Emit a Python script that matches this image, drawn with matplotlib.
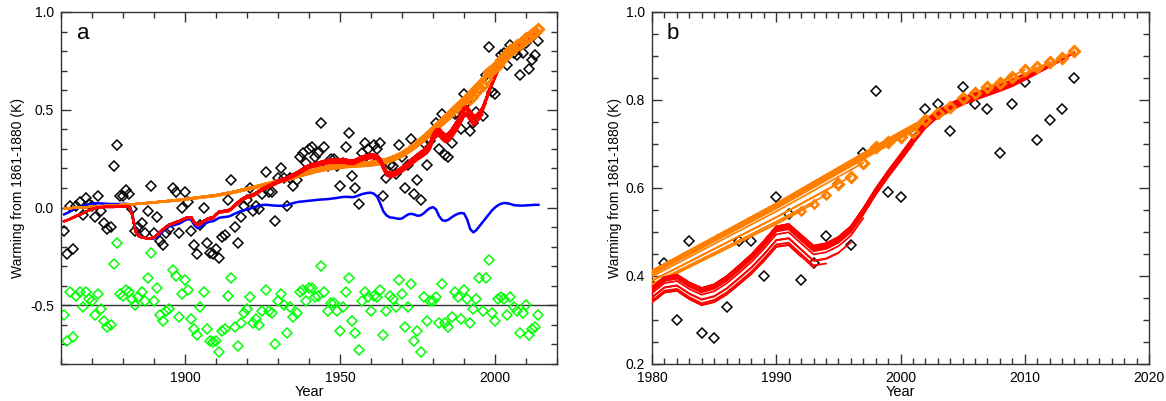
import numpy as np
import matplotlib
matplotlib.use("Agg")
import matplotlib.pyplot as plt
from matplotlib.ticker import MultipleLocator

plt.rcParams['font.family'] = ['Liberation Sans', 'DejaVu Sans']
plt.rcParams['axes.unicode_minus'] = False

# annual values, 1861-2014, warming relative to 1861-1880 (K)
years = np.arange(1861, 2015)

observed = [
    -0.12, -0.24, 0.01, -0.21, 0.01, 0.03, -0.04, 0.05, 0.02, 0.01,
    -0.05, 0.06, -0.02, -0.08, -0.11, -0.10, 0.21, 0.32, 0.06, 0.06,
    0.09, 0.07, -0.01, -0.12, -0.10, -0.08, -0.13, -0.02, 0.11, -0.13,
    -0.05, -0.17, -0.19, -0.13, -0.11, 0.10, 0.08, -0.13, 0.00, 0.08,
    0.03, -0.12, -0.19, -0.24, -0.09, 0.00, -0.18, -0.23, -0.24, -0.21,
    -0.26, -0.15, -0.14, 0.04, 0.14, -0.10, -0.18, -0.05, 0.01, 0.04,
    0.10, -0.02, 0.01, -0.01, 0.07, 0.18, 0.08, 0.08, -0.07, 0.15,
    0.20, 0.15, 0.01, 0.15, 0.11, 0.14, 0.26, 0.28, 0.23, 0.30,
    0.31, 0.26, 0.28, 0.43, 0.31, 0.21, 0.25, 0.25, 0.21, 0.11,
    0.23, 0.31, 0.38, 0.16, 0.10, 0.02, 0.28, 0.33, 0.30, 0.24,
    0.32, 0.30, 0.33, 0.06, 0.15, 0.22, 0.21, 0.17, 0.32, 0.26,
    0.10, 0.22, 0.35, 0.07, 0.14, 0.04, 0.33, 0.22, 0.34, 0.38,
    0.43, 0.30, 0.48, 0.27, 0.26, 0.33, 0.48, 0.48, 0.40, 0.58,
    0.54, 0.39, 0.43, 0.49, 0.61, 0.47, 0.68, 0.82, 0.59, 0.58,
    0.73, 0.78, 0.79, 0.73, 0.83, 0.79, 0.78, 0.68, 0.79, 0.84,
    0.71, 0.755, 0.78, 0.85,
]

# residuals, plotted with a -0.5 offset
residual = [
    -0.55, -0.68, -0.43, -0.66, -0.45, -0.43, -0.51, -0.43, -0.47, -0.48,
    -0.55, -0.44, -0.52, -0.58, -0.61, -0.60, -0.29, -0.18, -0.44, -0.45,
    -0.42, -0.43, -0.47, -0.50, -0.46, -0.43, -0.48, -0.36, -0.23, -0.48,
    -0.41, -0.55, -0.58, -0.53, -0.52, -0.32, -0.35, -0.56, -0.44, -0.37,
    -0.42, -0.57, -0.62, -0.65, -0.51, -0.43, -0.62, -0.68, -0.69, -0.68,
    -0.74, -0.63, -0.62, -0.45, -0.36, -0.61, -0.71, -0.59, -0.54, -0.52,
    -0.46, -0.59, -0.57, -0.60, -0.53, -0.42, -0.53, -0.54, -0.70, -0.48,
    -0.44, -0.50, -0.64, -0.51, -0.56, -0.54, -0.43, -0.42, -0.48, -0.41,
    -0.41, -0.46, -0.45, -0.30, -0.43, -0.53, -0.49, -0.49, -0.53, -0.63,
    -0.51, -0.43, -0.36, -0.58, -0.64, -0.73, -0.48, -0.43, -0.46, -0.53,
    -0.45, -0.46, -0.42, -0.65, -0.53, -0.45, -0.47, -0.51, -0.37, -0.44,
    -0.61, -0.51, -0.39, -0.68, -0.63, -0.74, -0.46, -0.58, -0.48, -0.48,
    -0.46, -0.59, -0.39, -0.59, -0.61, -0.56, -0.43, -0.46, -0.57, -0.42,
    -0.47, -0.59, -0.52, -0.47, -0.36, -0.53, -0.36, -0.27, -0.54, -0.58,
    -0.47, -0.46, -0.47, -0.55, -0.46, -0.51, -0.53, -0.64, -0.54, -0.50,
    -0.65, -0.62, -0.61, -0.55,
]

natural = [
    -0.035, -0.028, -0.020, -0.012, -0.005, 0.002, 0.008, 0.013, 0.017, 0.020,
    0.022, 0.022, 0.021, 0.020, 0.019, 0.018, 0.018, 0.018, 0.018, 0.019,
    0.019, 0.017, -0.030, -0.110, -0.140, -0.150, -0.155, -0.158, -0.160, -0.158,
    -0.150, -0.137, -0.120, -0.105, -0.097, -0.092, -0.088, -0.083, -0.075, -0.065,
    -0.060, -0.062, -0.090, -0.105, -0.100, -0.088, -0.078, -0.072, -0.070, -0.062,
    -0.052, -0.050, -0.048, -0.046, -0.040, -0.032, -0.025, -0.018, -0.013, -0.010,
    -0.005, 0.000, 0.005, 0.010, 0.013, 0.014, 0.013, 0.011, 0.010, 0.009,
    0.009, 0.008, 0.012, 0.018, 0.023, 0.027, 0.030, 0.031, 0.033, 0.035,
    0.036, 0.038, 0.040, 0.041, 0.042, 0.043, 0.045, 0.047, 0.049, 0.052,
    0.054, 0.055, 0.054, 0.053, 0.056, 0.062, 0.068, 0.072, 0.075, 0.076,
    0.070, 0.055, 0.020, -0.020, -0.040, -0.050, -0.052, -0.055, -0.058, -0.056,
    -0.045, -0.035, -0.032, -0.036, -0.042, -0.040, -0.030, -0.015, -0.003, 0.002,
    -0.010, -0.045, -0.065, -0.068, -0.062, -0.050, -0.040, -0.032, -0.028, -0.030,
    -0.060, -0.110, -0.127, -0.115, -0.095, -0.075, -0.055, -0.035, -0.015, 0.000,
    0.012, 0.020, 0.023, 0.022, 0.018, 0.013, 0.011, 0.010, 0.010, 0.011,
    0.012, 0.013, 0.014, 0.014,
]

total = [
    -0.070, -0.065, -0.058, -0.050, -0.043, -0.037, -0.030, -0.022, -0.015, -0.008,
    -0.003, 0.000, 0.002, 0.003, 0.003, 0.003, 0.003, 0.004, 0.004, 0.005,
    0.005, 0.004, -0.040, -0.120, -0.145, -0.152, -0.155, -0.157, -0.157, -0.152,
    -0.140, -0.125, -0.110, -0.097, -0.088, -0.082, -0.075, -0.070, -0.063, -0.055,
    -0.050, -0.050, -0.075, -0.088, -0.082, -0.070, -0.060, -0.054, -0.052, -0.035,
    -0.022, -0.020, -0.017, -0.015, -0.005, 0.010, 0.025, 0.038, 0.048, 0.055,
    0.060, 0.065, 0.075, 0.085, 0.095, 0.103, 0.110, 0.118, 0.126, 0.134,
    0.141, 0.145, 0.152, 0.160, 0.168, 0.176, 0.185, 0.195, 0.205, 0.213,
    0.218, 0.222, 0.226, 0.230, 0.235, 0.238, 0.240, 0.241, 0.242, 0.243,
    0.243, 0.240, 0.237, 0.235, 0.240, 0.248, 0.255, 0.260, 0.264, 0.266,
    0.265, 0.262, 0.245, 0.210, 0.180, 0.172, 0.175, 0.180, 0.190, 0.200,
    0.212, 0.225, 0.240, 0.252, 0.265, 0.276, 0.288, 0.300, 0.322, 0.365,
    0.388, 0.393, 0.375, 0.362, 0.370, 0.388, 0.412, 0.437, 0.467, 0.500,
    0.505, 0.480, 0.455, 0.460, 0.474, 0.498, 0.538, 0.583, 0.623, 0.660,
    0.698, 0.733, 0.758, 0.774, 0.787, 0.797, 0.807, 0.817, 0.828, 0.842,
    0.857, 0.872, 0.887, 0.902,
]

anthro = [
    -0.005, -0.004, -0.003, -0.002, -0.001, 0.000, 0.001, 0.002, 0.003, 0.004,
    0.005, 0.006, 0.007, 0.008, 0.009, 0.010, 0.011, 0.012, 0.013, 0.014,
    0.015, 0.016, 0.017, 0.018, 0.020, 0.021, 0.022, 0.024, 0.025, 0.027,
    0.028, 0.030, 0.031, 0.033, 0.034, 0.036, 0.038, 0.039, 0.041, 0.043,
    0.045, 0.047, 0.049, 0.051, 0.053, 0.055, 0.057, 0.059, 0.061, 0.063,
    0.066, 0.069, 0.072, 0.075, 0.078, 0.081, 0.085, 0.089, 0.093, 0.097,
    0.100, 0.104, 0.108, 0.112, 0.116, 0.120, 0.124, 0.128, 0.132, 0.136,
    0.140, 0.144, 0.149, 0.154, 0.159, 0.164, 0.169, 0.174, 0.179, 0.184,
    0.188, 0.193, 0.197, 0.200, 0.204, 0.207, 0.210, 0.212, 0.214, 0.216,
    0.218, 0.220, 0.222, 0.223, 0.224, 0.225, 0.226, 0.227, 0.228, 0.230,
    0.232, 0.234, 0.237, 0.241, 0.245, 0.250, 0.256, 0.263, 0.270, 0.278,
    0.288, 0.299, 0.310, 0.322, 0.335, 0.348, 0.362, 0.376, 0.390, 0.405,
    0.420, 0.435, 0.450, 0.465, 0.480, 0.495, 0.510, 0.525, 0.540, 0.555,
    0.571, 0.587, 0.603, 0.619, 0.635, 0.651, 0.667, 0.683, 0.699, 0.715,
    0.730, 0.745, 0.760, 0.775, 0.790, 0.803, 0.816, 0.829, 0.842, 0.855,
    0.869, 0.883, 0.897, 0.911,
]

# attributable anthropogenic warming, one estimate per end year
end_years = [1992, 1993, 1994, 1995, 1996, 1997, 1998, 1999, 2000, 2001, 2002, 2003,
             2004, 2005, 2006, 2007, 2008, 2009, 2010, 2011, 2012, 2013, 2014]
end_values = [0.548, 0.564, 0.584, 0.610, 0.626, 0.657, 0.694, 0.705, 0.717, 0.728,
              0.755, 0.770, 0.785, 0.804, 0.817, 0.829, 0.838, 0.852, 0.868, 0.874,
              0.886, 0.896, 0.911]

ORANGE = '#ff8000'
RED = '#ff0000'

observed = np.array(observed)
residual = np.array(residual)
natural = np.array(natural)
total = np.array(total)
anthro = np.array(anthro)

scales = [ev / anthro[ey - years[0]] for ey, ev in zip(end_years, end_values)]
mean_scale = np.mean(scales)


def bundle(end_year, scale):
    # one attribution run ending in end_year: anthropogenic and total curves
    n = end_year - years[0] + 1
    ant = anthro[:n] * scale
    tot = total[:n] + anthro[:n] * (scale - mean_scale)
    return years[:n], ant, tot


def style_axes(ax):
    ax.tick_params(which='both', direction='in', top=True, right=True,
                   labelsize=10, width=1, color='#333333', pad=5)
    ax.tick_params(which='major', length=7)
    ax.tick_params(which='minor', length=4)
    for s in ax.spines.values():
        s.set_color('#333333')
        s.set_linewidth(1)
    ax.set_xlabel('Year', fontsize=10.5)
    ax.set_ylabel('Warming from 1861-1880 (K)', fontsize=10)


fig = plt.figure(figsize=(11.66, 4.01), dpi=100)
ax_a = fig.add_axes([0.0523, 0.0923, 0.4254, 0.8778])
ax_b = fig.add_axes([0.5592, 0.0923, 0.4262, 0.8778])

for ax, lw_line in [(ax_a, 1.5), (ax_b, 1.3)]:
    ax.plot(years, observed, 'D', ms=5.2, mfc='none', mec='black', mew=1.1, zorder=2)
    if ax is ax_a:
        ax.plot(years, residual, 'D', ms=5.2, mfc='none', mec='#00ff00', mew=1.1, zorder=2)
        ax.axhline(-0.5, color='#333333', lw=1, zorder=1)
        ax.plot(years, natural, color='#0000ff', lw=1.8, zorder=3)
    for ey, sc in zip(end_years, scales):
        yr, ant, tot = bundle(ey, sc)
        ax.plot(yr, ant, color=ORANGE, lw=lw_line, zorder=4)
    for ey, sc in zip(end_years, scales):
        yr, ant, tot = bundle(ey, sc)
        ax.plot(yr, tot, color=RED, lw=lw_line, zorder=5)
    ax.plot(end_years[:3], end_values[:3], 'D', ms=4, mfc='none', mec=ORANGE, mew=1.8, zorder=6)
    ax.plot(end_years[3:], end_values[3:], 'D', ms=5.5, mfc='none', mec=ORANGE, mew=2.2, zorder=6)

ax_a.set_xlim(1860, 2020)
ax_a.set_ylim(-0.8, 1.0)
ax_a.xaxis.set_minor_locator(MultipleLocator(10))
ax_a.yaxis.set_minor_locator(MultipleLocator(0.1))
ax_a.set_xticks([1900, 1950, 2000])
ax_a.set_yticks([-0.5, 0.0, 0.5, 1.0])
ax_a.yaxis.set_major_formatter(lambda v, p: f'{v:.1f}')
style_axes(ax_a)
ax_a.text(0.032, 0.94, 'a', transform=ax_a.transAxes, fontsize=16, va='center', ha='left')

ax_b.set_xlim(1980, 2020)
ax_b.set_ylim(0.2, 1.0)
ax_b.xaxis.set_major_locator(MultipleLocator(10))
ax_b.xaxis.set_minor_locator(MultipleLocator(1))
ax_b.yaxis.set_major_locator(MultipleLocator(0.2))
ax_b.yaxis.set_minor_locator(MultipleLocator(0.05))
ax_b.yaxis.set_major_formatter(lambda v, p: f'{v:.1f}')
style_axes(ax_b)
ax_b.text(0.03, 0.94, 'b', transform=ax_b.transAxes, fontsize=16, va='center', ha='left')

ax_a.yaxis.set_label_coords(-0.073, 0.5)
ax_b.yaxis.set_label_coords(-0.06, 0.5)
ax_a.xaxis.set_label_coords(0.5, -0.06)
ax_b.xaxis.set_label_coords(0.5, -0.06)

fig.savefig('out.png', dpi=100)
